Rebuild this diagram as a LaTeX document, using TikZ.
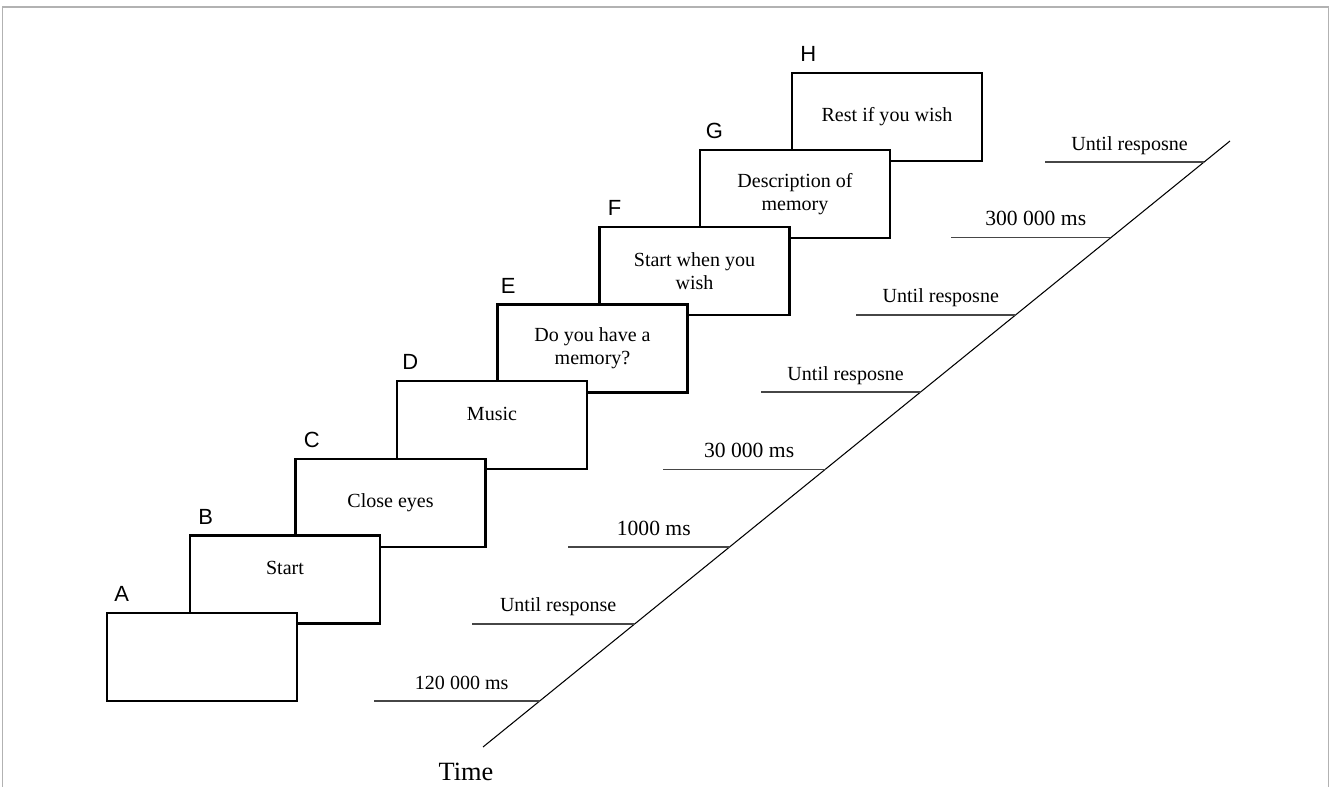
\documentclass[tikz,border=0pt]{standalone}
\usepackage{fontspec}
\setmainfont{Liberation Serif}
\newfontfamily\letrafont{Liberation Sans}
\usepackage{tikz}
\usetikzlibrary{positioning, calc}
\definecolor{marcogris}{RGB}{178,178,178}
\definecolor{rayagris}{RGB}{70,70,70}
\tikzset{
  pantalla/.style={rectangle, draw=black, fill=white, line width=1.25pt,
    minimum width=3.8cm, minimum height=1.76cm, align=center, inner sep=0pt,
    font=\fontsize{11.4}{13.1}\selectfont},
  letra/.style={inner sep=0pt, anchor=south west,
    font=\letrafont\fontsize{12.5}{14}\selectfont},
  duracion/.style={inner sep=0pt, midway, anchor=base, yshift=0.24cm,
    xshift=0.1cm, font=\fontsize{11.4}{13}\selectfont},
  grande/.style={font=\fontsize{12.3}{14}\selectfont},
  raya/.style={draw=rayagris, line width=0.6pt},
  eje/.style={draw=black, line width=0.6pt},
  tiempo/.style={inner sep=0pt, anchor=base, font=\fontsize{15}{17}\selectfont},
  marco/.style={draw=marcogris, line width=0.6pt}
}

\begin{document}
\begin{tikzpicture}[x=0.02cm, y=-0.02cm]
  \useasboundingbox (0,0) rectangle (1330,787);
  \draw[marco] (2.5,787) |- (1328.5,7) -- (1328.5,787);
  % pantallas, de la ultima a la primera
  \node[pantalla] (h) at (887,117) {Rest if you wish};
  \node[pantalla] (g) at (795,194) {Description of\\memory};
  \node[pantalla] (f) at (694.5,271) {Start when you\\wish};
  \node[pantalla] (e) at (592.5,348.5) {Do you have a\\memory?};
  \node[pantalla] (d) at (492,425) {Music\\~};
  \node[pantalla] (c) at (390.5,503) {Close eyes};
  \node[pantalla] (b) at (285,579.5) {Start\\~};
  \node[pantalla] (a) at (202,657) {};
  % letras
  \node[letra, above right=2mm and 1.6mm of a.north west] (la) {A};
  \node[letra, above right=2mm and 1.8mm of b.north west] (lb) {B};
  \node[letra, above right=2mm and 1.8mm of c.north west] (lc) {C};
  \node[letra, above right=2mm and 1.2mm of d.north west] (ld) {D};
  \node[letra, above right=2mm and 0.8mm of e.north west] (le) {E};
  \node[letra, above right=2mm and 1.8mm of f.north west] (lf) {F};
  \node[letra, above right=2mm and 1.3mm of g.north west] (lg) {G};
  \node[letra, above right=2mm and 1.8mm of h.north west] (lh) {H};
  % eje de tiempo
  \coordinate (t0) at (483,747);
  \coordinate (t1) at (1230,141);
  \draw[eje] (t0) -- (t1);
  \node[tiempo] (tiempo) at (466,780) {Time};
  % duraciones
  \coordinate (m1) at ($(t0)!0.0759!(t1)$);
  \coordinate (m2) at ($(t0)!0.2030!(t1)$);
  \coordinate (m3) at ($(t0)!0.3300!(t1)$);
  \coordinate (m4) at ($(t0)!0.4587!(t1)$);
  \coordinate (m5) at ($(t0)!0.5858!(t1)$);
  \coordinate (m6) at ($(t0)!0.7129!(t1)$);
  \coordinate (m7) at ($(t0)!0.8400!(t1)$);
  \coordinate (m8) at ($(t0)!0.9653!(t1)$);
  \draw[raya] (m1) -- ++(-166,0) node[duracion] (d1) {120 000 ms};
  \draw[raya] (m2) -- ++(-163,0) node[duracion] (d2) {Until response};
  \draw[raya] (m3) -- ++(-161.5,0) node[duracion, grande] (d3) {1000 ms};
  \draw[raya] (m4) -- ++(-163,0) node[duracion, grande] (d4) {30 000 ms};
  \draw[raya] (m5) -- ++(-160,0) node[duracion] (d5) {Until resposne};
  \draw[raya] (m6) -- ++(-159.5,0) node[duracion] (d6) {Until resposne};
  \draw[raya] (m7) -- ++(-159.5,0) node[duracion, grande] (d7) {300 000 ms};
  \draw[raya] (m8) -- ++(-159,0) node[duracion] (d8) {Until resposne};
\end{tikzpicture}
\end{document}
